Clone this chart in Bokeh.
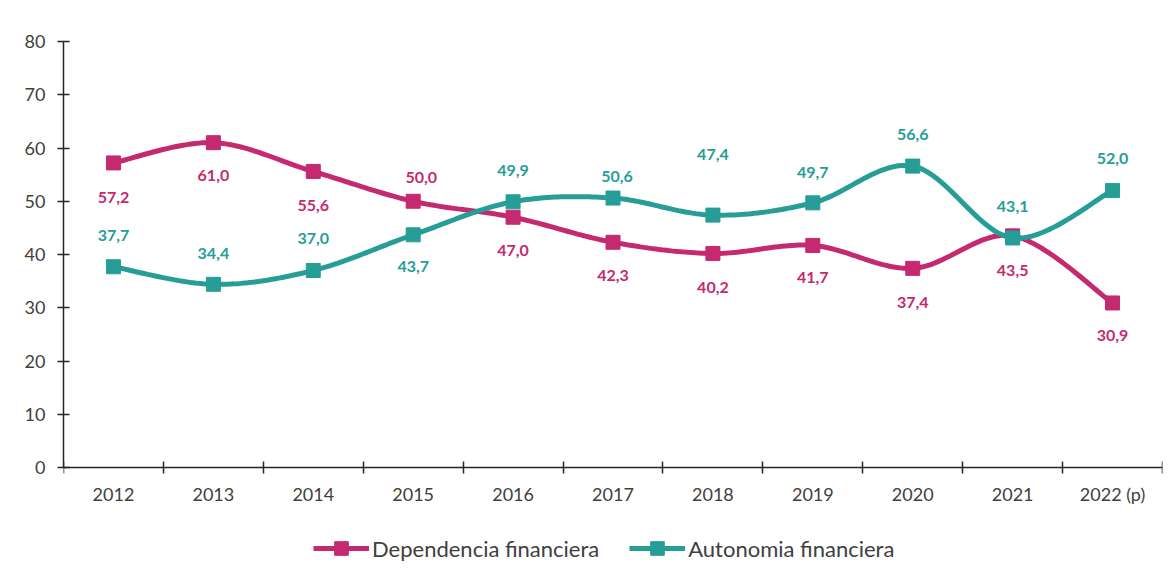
import numpy as np
from bokeh.plotting import figure
from bokeh.models import FixedTicker, Legend, LegendItem, ColumnDataSource, Range1d
from bokeh.core.properties import value
from bokeh.embed import file_html
from bokeh.resources import INLINE

# ---- data ----
years = ["2012", "2013", "2014", "2015", "2016", "2017", "2018", "2019", "2020", "2021", "2022 (p)"]
dependencia = [57.2, 61.0, 55.6, 50.0, 47.0, 42.3, 40.2, 41.7, 37.4, 43.5, 30.9]
autonomia = [37.7, 34.4, 37.0, 43.7, 49.9, 50.6, 47.4, 49.7, 56.6, 43.1, 52.0]
y_ticks = [0, 10, 20, 30, 40, 50, 60, 70, 80]

# label placement (screen px, down positive) -- style only
dep_dy = [35, 33, 34, -24, 33, 33, 34, 32, 34, 35, 33]
dep_dx = [0, 0, 0, 8, 0, 0, 0, 0, 0, 0, 0]
aut_dy = [-31, -31, -32, 32, -31, -22, -61, -30, -32, -31, -32]
aut_dx = [0, 0, 0, 0, 0, 4, 0, 0, 0, 0, 0]

MAGENTA = "#C5296F"
TEAL = "#269D97"
FONT = "Lato"

# layout (pixels)
PLOT_H = 426          # height of the 0..80 band
EXTRA_BELOW = 103     # room below the value axis for tick labels + legend
Y_MIN, Y_MAX = 0, 80
y_start = Y_MIN - EXTRA_BELOW * (Y_MAX - Y_MIN) / PLOT_H

xs = list(range(len(years)))


def smooth(xv, yv, n=30):
    pts = np.column_stack([np.asarray(xv, float), np.asarray(yv, float)])
    P = np.vstack([pts[0], pts, pts[-1]])
    out = []
    t = np.linspace(0, 1, n)[:, None]
    for i in range(1, len(P) - 2):
        p0, p1, p2, p3 = P[i - 1], P[i], P[i + 1], P[i + 2]
        c1 = p1 + (p2 - p0) / 6.0
        c2 = p2 - (p3 - p1) / 6.0
        seg = (1 - t) ** 3 * p1 + 3 * (1 - t) ** 2 * t * c1 + 3 * (1 - t) * t ** 2 * c2 + t ** 3 * p2
        out.append(seg if i == 1 else seg[1:])
    arr = np.vstack(out)
    return arr[:, 0], arr[:, 1]


def fmt(v):
    return f"{v:.1f}".replace(".", ",")


p = figure(frame_width=1099, frame_height=PLOT_H + EXTRA_BELOW, output_backend="svg", toolbar_location=None,
           x_range=Range1d(-0.5, 10.5), y_range=Range1d(y_start, Y_MAX),
           min_border_left=63, min_border_right=8, min_border_top=41, min_border_bottom=0)
p.outline_line_color = None
p.xgrid.visible = False
p.ygrid.visible = False
p.background_fill_color = "white"
p.border_fill_color = "white"

# series
dx, dy = smooth(xs, dependencia)
ax_, ay_ = smooth(xs, autonomia)
l_dep = p.line(dx, dy, line_color=MAGENTA, line_width=5)
s_dep = p.scatter(xs, dependencia, marker="square", size=14, fill_color=MAGENTA, line_color=MAGENTA)
l_aut = p.line(ax_, ay_, line_color=TEAL, line_width=5)
s_aut = p.scatter(xs, autonomia, marker="square", size=14, fill_color=TEAL, line_color=TEAL)

# data labels
src_d = ColumnDataSource(dict(x=xs, y=dependencia, t=[fmt(v) for v in dependencia], dx=dep_dx, dy=dep_dy))
src_a = ColumnDataSource(dict(x=xs, y=autonomia, t=[fmt(v) for v in autonomia], dx=aut_dx, dy=aut_dy))
for src, col in ((src_d, MAGENTA), (src_a, TEAL)):
    p.text(x="x", y="y", text="t", x_offset="dx", y_offset="dy", source=src,
           text_align="center", text_baseline="middle", text_font=value(FONT),
           text_font_style="bold", text_font_size="16px", text_color=col)

# axes
ax = p.xaxis[0]
ax.fixed_location = 0
ax.ticker = FixedTicker(ticks=xs, minor_ticks=[i - 0.5 for i in range(len(years) + 1)])
ax.major_label_overrides = {i: y for i, y in enumerate(years)}
ax.major_tick_in = 0
ax.major_tick_out = 0
ax.minor_tick_in = 6
ax.minor_tick_out = 6
ax.minor_tick_line_color = "#262626"
ax.minor_tick_line_width = 1.5
ax.axis_line_color = "#262626"
ax.axis_line_width = 1.5
ax.major_label_standoff = 9
ax.major_label_text_font = FONT
ax.major_label_text_font_size = "18px"
ax.major_label_text_color = "#404040"

ay = p.yaxis[0]
ay.bounds = (Y_MIN, Y_MAX)
ay.ticker = FixedTicker(ticks=y_ticks, minor_ticks=[])
ay.major_tick_in = 6
ay.major_tick_out = 6
ay.major_tick_line_color = "#262626"
ay.major_tick_line_width = 1.5
ay.axis_line_color = "#262626"
ay.axis_line_width = 1.5
ay.major_label_standoff = 12
ay.major_label_text_font = FONT
ay.major_label_text_font_size = "18px"
ay.major_label_text_color = "#404040"

legend = Legend(items=[LegendItem(label="Dependencia financiera", renderers=[l_dep, s_dep]),
                       LegendItem(label="Autonomia financiera", renderers=[l_aut, s_aut])],
                orientation="horizontal", location=(250, 5),
                glyph_width=56, glyph_height=34, label_standoff=3, spacing=30,
                padding=0, margin=0, border_line_color=None, background_fill_alpha=0,
                label_text_font=FONT, label_text_font_size="22px", label_text_color="#404040")
p.add_layout(legend)

open("out.html", "w").write(file_html(p, INLINE))
